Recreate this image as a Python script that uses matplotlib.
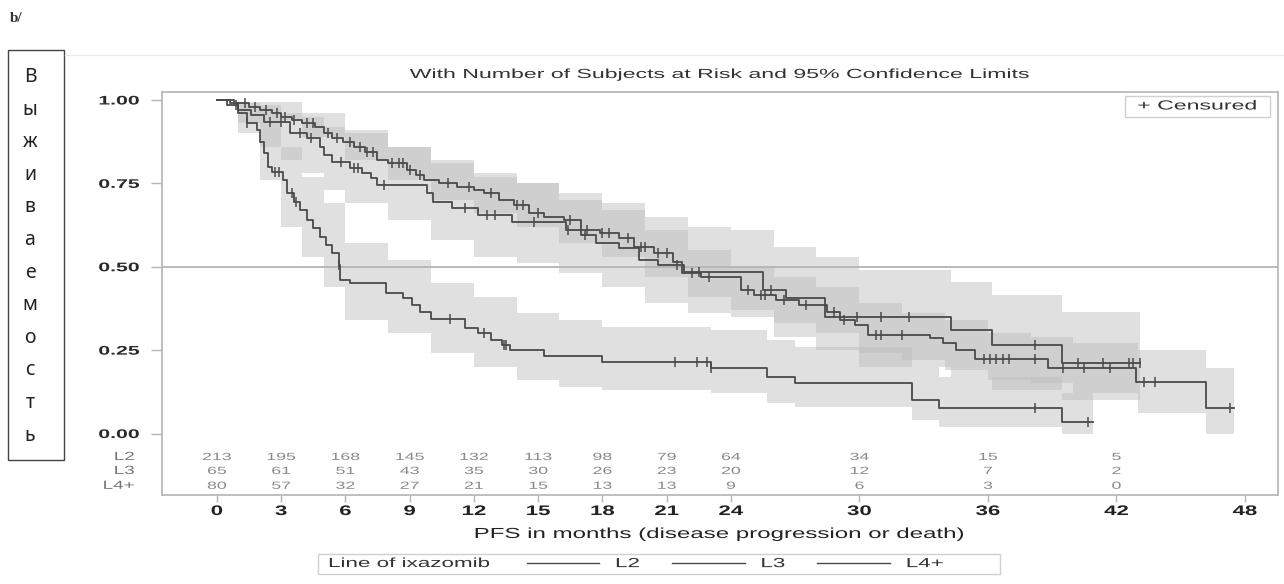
import numpy as np
import matplotlib
matplotlib.use("Agg")
import matplotlib.pyplot as plt
from matplotlib.lines import Line2D
from matplotlib.patches import Rectangle
from matplotlib.patheffects import AbstractPathEffect
from matplotlib.transforms import Affine2D

plt.rcParams['font.family'] = ['Liberation Sans', 'DejaVu Sans']

# Kaplan-Meier steps (months, survival)
l2_t = [0, 0.8, 1.5, 2.0, 2.6, 3.0, 3.5, 4.0, 4.6, 5.0, 5.4, 5.9, 6.4, 6.9, 7.5, 8.0, 8.9, 9.3, 9.7, 10.4,
        11.2, 12.0, 12.5, 13.2, 13.9, 14.6, 15.3, 16.2, 17.0, 17.9, 18.8, 19.5, 20.4, 21.3, 21.7, 22.6, 24.5,
        25.1, 26.1, 27.2, 28.5, 29.1, 29.8, 30.4, 33.3, 33.9, 34.5, 35.4, 38.8, 42.9, 46.2]
l2_s = [1.0, 0.99, 0.98, 0.97, 0.96, 0.95, 0.94, 0.93, 0.92, 0.90, 0.885, 0.875, 0.86, 0.845, 0.82, 0.81, 0.79,
        0.775, 0.76, 0.75, 0.74, 0.73, 0.72, 0.70, 0.685, 0.66, 0.65, 0.64, 0.61, 0.60, 0.585, 0.56, 0.54, 0.515,
        0.48, 0.47, 0.43, 0.415, 0.40, 0.385, 0.365, 0.34, 0.325, 0.295, 0.285, 0.27, 0.25, 0.222, 0.195, 0.155, 0.076]
l2_end = 47.5
l2_cens = [1.3, 1.8, 2.3, 2.8, 3.2, 3.6, 4.2, 4.5, 5.2, 5.6, 6.2, 6.7, 7.0, 7.3, 8.2, 8.5, 8.7, 9.0, 9.5, 10.8,
           11.8, 12.8, 14.0, 14.3, 15.0, 16.5, 17.3, 18.0, 18.3, 19.2, 19.8, 20.0, 20.6, 21.0, 22.2, 23.0, 24.8,
           25.4, 25.6, 26.5, 27.5, 28.8, 29.3, 30.8, 31.0, 32.0, 35.8, 36.1, 36.4, 36.7, 37.0, 38.2, 39.5, 40.5,
           41.7, 43.3, 43.8, 47.3]
l2_ci_t = [0, 2, 4, 6, 8, 10, 12, 14, 16, 18, 20, 22, 24, 26, 28, 30, 32, 34, 36, 38, 40, 43, 46.2]
l2_lo = [1.0, 0.94, 0.89, 0.82, 0.76, 0.70, 0.66, 0.62, 0.57, 0.53, 0.47, 0.41, 0.37, 0.33, 0.30, 0.24, 0.22,
         0.19, 0.16, 0.15, 0.12, 0.06, 0.0]
l2_hi = [1.0, 0.995, 0.96, 0.91, 0.86, 0.82, 0.78, 0.75, 0.70, 0.67, 0.61, 0.55, 0.50, 0.47, 0.44, 0.39, 0.36,
         0.34, 0.30, 0.29, 0.27, 0.25, 0.195]

l3_t = [0, 0.5, 1.0, 1.6, 2.2, 3.4, 4.2, 4.8, 5.0, 5.4, 6.2, 6.8, 7.2, 7.5, 9.8, 10.1, 11.0, 12.2, 13.8, 16.3,
        17.0, 17.7, 18.8, 19.7, 20.6, 21.8, 25.5, 26.6, 28.4, 34.3, 36.2, 39.45]
l3_s = [1.0, 0.985, 0.97, 0.955, 0.935, 0.90, 0.885, 0.86, 0.835, 0.815, 0.795, 0.78, 0.765, 0.745, 0.72, 0.695,
        0.675, 0.655, 0.635, 0.61, 0.595, 0.57, 0.555, 0.52, 0.505, 0.485, 0.43, 0.405, 0.35, 0.31, 0.265, 0.21]
l3_end = 43.1
l3_cens = [0.9, 2.5, 3.0, 3.9, 4.4, 5.8, 6.4, 6.6, 7.8, 11.6, 12.6, 13.0, 14.8, 16.4, 17.2, 21.5, 22.5, 25.9,
           29.9, 31.0, 32.3, 38.2, 40.2, 41.4, 42.6, 42.8, 43.1]
l3_ci_t = [0, 1, 2, 3, 4, 5, 6, 8, 10, 12, 14, 16, 18, 20, 22, 24, 26, 28, 30, 34.3, 36.2, 39.45]
l3_lo = [1.0, 0.93, 0.86, 0.82, 0.78, 0.73, 0.69, 0.64, 0.58, 0.53, 0.51, 0.48, 0.44, 0.39, 0.36, 0.35, 0.29,
         0.25, 0.20, 0.17, 0.13, 0.10]
l3_hi = [1.0, 0.995, 0.985, 0.96, 0.95, 0.92, 0.90, 0.86, 0.81, 0.77, 0.75, 0.72, 0.69, 0.65, 0.62, 0.61, 0.56,
         0.53, 0.49, 0.455, 0.415, 0.365]

l4_t = [0, 0.6, 1.0, 1.4, 1.9, 2.0, 2.2, 2.4, 2.6, 3.1, 3.3, 3.6, 3.9, 4.2, 4.5, 4.8, 5.1, 5.4, 5.7, 5.75,
        6.2, 7.9, 8.7, 9.1, 9.5, 10.0, 11.6, 12.2, 12.8, 13.3, 13.7, 15.3, 18.0, 23.1, 25.7, 27.0, 32.45, 33.7, 39.45]
l4_s = [1.0, 0.99, 0.96, 0.93, 0.91, 0.875, 0.84, 0.80, 0.785, 0.76, 0.72, 0.695, 0.67, 0.64, 0.615, 0.59, 0.565,
        0.54, 0.505, 0.46, 0.45, 0.42, 0.405, 0.385, 0.365, 0.342, 0.315, 0.30, 0.28, 0.265, 0.25, 0.232, 0.215,
        0.195, 0.17, 0.15, 0.10, 0.076, 0.035]
l4_end = 40.9
l4_cens = [1.4, 2.7, 2.9, 3.5, 3.7, 5.7, 10.9, 12.5, 13.4, 13.5, 21.4, 22.4, 22.9, 23.1, 38.2, 40.7]
l4_ci_t = [0, 1, 2, 3, 4, 5, 6, 8, 10, 12, 14, 16, 18, 23.1, 25.7, 27.0, 32.45, 33.7, 39.45]
l4_lo = [1.0, 0.90, 0.76, 0.62, 0.53, 0.44, 0.34, 0.30, 0.24, 0.20, 0.16, 0.14, 0.13, 0.12, 0.09, 0.08, 0.04,
         0.02, 0.0]
l4_hi = [1.0, 0.99, 0.94, 0.86, 0.77, 0.69, 0.57, 0.52, 0.45, 0.41, 0.36, 0.34, 0.32, 0.31, 0.28, 0.26, 0.20,
         0.17, 0.12]

# number at risk table
risk_times = [0, 3, 6, 9, 12, 15, 18, 21, 24, 30, 36, 42]
risk_l2 = [213, 195, 168, 145, 132, 113, 98, 79, 64, 34, 15, 5]
risk_l3 = [65, 61, 51, 43, 35, 30, 26, 23, 20, 12, 7, 2]
risk_l4 = [80, 57, 32, 27, 21, 15, 13, 13, 9, 6, 3, 0]
groups = ["L2", "L3", "L4+"]

xticks = [0, 3, 6, 9, 12, 15, 18, 21, 24, 30, 36, 42, 48]
yticks = [0.0, 0.25, 0.5, 0.75, 1.0]
ylabel_letters = list("Выживаемость")


class Stretch(AbstractPathEffect):
    """widen glyphs horizontally (the SAS output is stretched)"""
    def __init__(self, sx=1.75, anchor="center"):
        super().__init__()
        self.sx = sx
        self.anchor = anchor

    def draw_path(self, renderer, gc, tpath, affine, rgbFace=None):
        v = tpath.vertices
        x0, x1 = (v[:, 0].min(), v[:, 0].max()) if len(v) else (0, 0)
        cx = {"left": x0, "center": (x0 + x1) / 2, "right": x1}[self.anchor]
        a = Affine2D().translate(-cx, 0).scale(self.sx, 1).translate(cx, 0) + affine
        renderer.draw_path(gc, tpath, a, rgbFace)


W, H = 1284, 584
fig = plt.figure(figsize=(W / 100, H / 100), dpi=100)
ax = fig.add_axes([161.7 / W, 1 - 495 / H, (1278 - 161.7) / W, (495 - 92) / H])

line_c = "#4a4a4a"
frame_c = "#b4b4b4"

# confidence bands
for t, lo, hi, end in [(l3_ci_t, l3_lo, l3_hi, l3_end), (l2_ci_t, l2_lo, l2_hi, l2_end),
                       (l4_ci_t, l4_lo, l4_hi, l4_end)]:
    ax.fill_between(t + [end], lo + [lo[-1]], hi + [hi[-1]], step="post",
                    color="#bcbcbc", alpha=0.45, lw=0, zorder=1)

ax.axhline(0.5, color=frame_c, lw=1.3, zorder=2)

# survival curves + censor marks
for t, s, end, cens in [(l2_t, l2_s, l2_end, l2_cens), (l3_t, l3_s, l3_end, l3_cens),
                        (l4_t, l4_s, l4_end, l4_cens)]:
    ax.step(t + [end], s + [s[-1]], where="post", color=line_c, lw=1.3, zorder=3)
    idx = np.searchsorted(t, cens, side="right") - 1
    ax.plot(cens, np.array(s)[idx], ls="none", marker="|", ms=7, mew=1.1, color=line_c, zorder=4)

ax.set_xlim(-2.57, 49.55)
ax.set_ylim(-0.1844, 1.024)
for sp in ax.spines.values():
    sp.set_color(frame_c)
    sp.set_linewidth(1.2)

ax.set_yticks(yticks, labels=[f"{v:.2f}" for v in yticks])
ax.set_xticks(xticks, labels=[str(v) for v in xticks])
ax.tick_params(axis="y", length=8, width=1, color=frame_c, pad=8, labelsize=9, labelcolor="#2a2a2a")
ax.tick_params(axis="x", length=5, width=1, color=frame_c, pad=1.5, labelsize=10, labelcolor="#222222")
for lbl in ax.get_yticklabels():
    lbl.set_fontweight("bold")
    lbl.set_path_effects([Stretch(1.7, "right")])
for lbl in ax.get_xticklabels():
    lbl.set_fontweight("bold")
    lbl.set_path_effects([Stretch(1.6, "center")])

# at-risk rows
row_y = [-0.0705, -0.1124, -0.157]
for g, counts, y in zip(groups, [risk_l2, risk_l3, risk_l4], row_y):
    ax.text(-3.85, y, g, ha="right", va="center", fontsize=8.5, color="#777777", clip_on=False,
            path_effects=[Stretch(1.6, "right")])
    for tt, n in zip(risk_times, counts):
        ax.text(tt, y, str(n), ha="center", va="center", fontsize=7.5, color="#8a8a8a",
                path_effects=[Stretch(1.7, "center")])

# censored key
ax.add_patch(Rectangle((1125 / W, 1 - 117 / H), 145 / W, 21 / H, transform=fig.transFigure,
                       fill=False, ec="#d0d0d0", lw=1))
fig.text(1197 / W, 1 - 106.5 / H, "+ Censured", ha="center", va="center", fontsize=9.5, color="#333333",
         path_effects=[Stretch(1.75, "center")])

# titles
fig.text(720 / W, 1 - 75 / H, "With Number of Subjects at Risk and 95% Confidence Limits", ha="center",
         va="center", fontsize=9.5, color="#333333", path_effects=[Stretch(1.75, "center")])
fig.text(720 / W, 1 - 534 / H, "PFS in months (disease progression or death)", ha="center", va="center",
         fontsize=10.5, color="#222222", path_effects=[Stretch(1.65, "center")])

# group legend at the bottom
ax.add_patch(Rectangle((318 / W, 1 - 574 / H), 682 / W, 20 / H, transform=fig.transFigure,
                       fill=False, ec="#d0d0d0", lw=1, clip_on=False))
fig.text(328 / W, 1 - 564 / H, "Line of ixazomib", ha="left", va="center", fontsize=9.5, color="#333333",
         path_effects=[Stretch(1.7, "left")])
handles = [Line2D([], [], color=line_c, lw=1) for _ in groups]
leg = fig.legend(handles, groups, ncol=3, loc="center left", bbox_to_anchor=(520 / W, 1 - 564 / H),
                 frameon=False, fontsize=9.5, handlelength=5.5, handletextpad=1.2, columnspacing=3.2,
                 borderpad=0, labelcolor="#333333")
for txt in leg.get_texts():
    txt.set_path_effects([Stretch(1.7, "left")])

# russian axis label in a box
fig.add_artist(Rectangle((8 / W, 1 - 460 / H), 56 / W, 410 / H, transform=fig.transFigure,
                         fill=False, ec="#444444", lw=1))
for i, ch in enumerate(ylabel_letters):
    fig.text(30 / W, 1 - (77 + i * 32.6) / H, ch, ha="center", va="center", fontsize=14,
             family="Noto Sans", color="#222222")

fig.add_artist(Line2D([65 / W, 1], [1 - 55 / H, 1 - 55 / H], color="#ececec", lw=1))
fig.text(10 / W, 1 - 18 / H, "b/", ha="left", va="center", fontsize=11, family="Liberation Serif",
         fontweight="bold", color="#333333")

fig.savefig("out.png", dpi=100)
